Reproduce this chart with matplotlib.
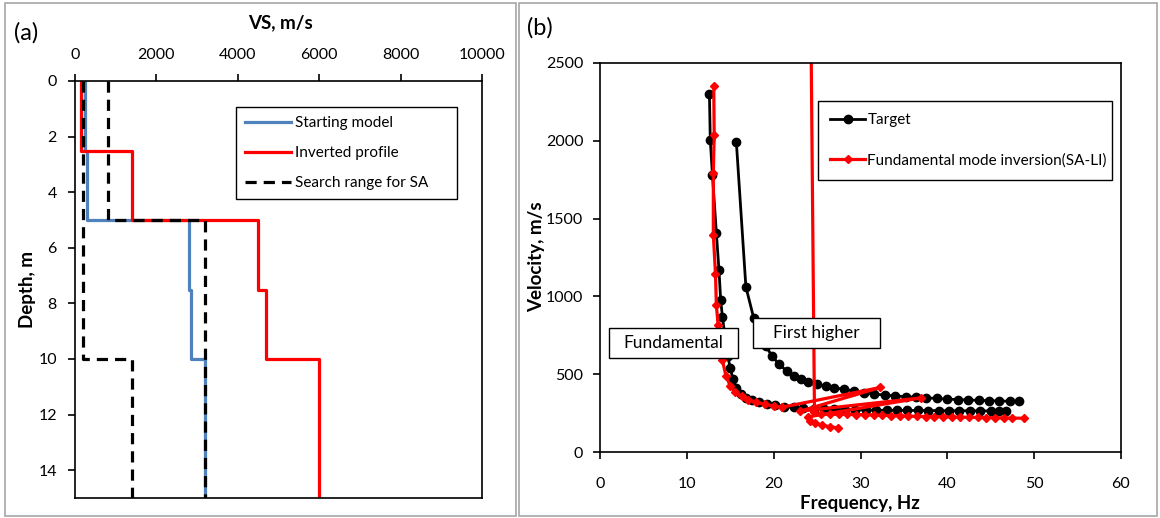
import matplotlib
matplotlib.use('Agg')
import matplotlib.pyplot as plt
from matplotlib.patches import Rectangle

plt.rcParams['font.family'] = ['Lato', 'DejaVu Sans']

# ---- (a) layered VS profiles (depth edges in m, VS in m/s) ----
depth_edges = [0, 2.5, 5, 7.5, 10, 15]
vs_start = [250, 300, 2800, 2850, 3200]
vs_inverted = [150, 1400, 4500, 4700, 6000]
sa_low_edges = [0, 10, 15]
sa_low = [200, 1400]
sa_high_edges = [0, 5, 15]
sa_high = [800, 3200]

# ---- (b) dispersion curves (frequency Hz, phase velocity m/s) ----
tgt_fund_f = [12.6, 12.7, 12.95, 13.4, 13.7, 13.9, 14.1, 14.4, 14.7, 15.0, 15.3, 15.7,
              16.2, 16.8, 17.5, 18.3, 19.2, 20.2, 21.2, 22.3, 23.4, 24.6, 25.8, 27.0,
              28.2, 29.4, 30.6, 31.8, 33.0, 34.2, 35.4, 36.6, 37.8, 39.0, 40.2, 41.4,
              42.6, 43.8, 45.0, 46.0, 46.8]
tgt_fund_v = [2300, 2005, 1780, 1409, 1170, 975, 868, 740, 620, 540, 470, 410,
              372, 350, 335, 322, 310, 300, 292, 286, 281, 278, 276, 274,
              272, 271, 270, 269, 268, 268, 267, 267, 266, 266, 265, 265,
              265, 264, 264, 264, 264]
tgt_high_f = [15.7, 16.8, 17.7, 18.4, 19.1, 19.8, 20.6, 21.5, 22.3, 23.1, 24.0, 25.0,
              26.0, 27.0, 28.1, 29.2, 30.4, 31.6, 32.8, 34.0, 35.2, 36.4, 37.6, 38.8,
              40.0, 41.2, 42.4, 43.6, 44.8, 46.0, 47.2, 48.2]
tgt_high_v = [1994, 1062, 861, 760, 680, 618, 565, 521, 490, 468, 450, 436,
              422, 412, 403, 393, 382, 372, 366, 360, 356, 352, 348, 344,
              340, 337, 334, 332, 330, 328, 326, 325]
inv_main_f = [13.1, 13.15, 13.05, 13.05, 13.3, 13.4, 13.6, 13.8, 14.1, 14.5, 15.0, 15.6,
              16.3, 17.1, 18.0, 19.0, 20.0, 21.0, 32.3, 23.0, 37.0, 23.9, 24.2, 24.8,
              25.6, 26.5, 27.4]
inv_main_v = [2352, 2037, 1790, 1395, 1144, 945, 816, 700, 590, 490, 425, 385,
              357, 336, 320, 306, 296, 288, 415, 262, 348, 225, 200, 185,
              172, 162, 155]
inv_jump_f = [24.0, 24.7, 25.5, 26.5, 27.5, 28.5, 29.5, 30.5, 31.5, 32.5, 33.5, 34.5,
              35.5, 36.5, 37.5, 38.5, 39.5, 40.5, 41.5, 42.5, 43.5, 44.5, 45.5, 46.5,
              47.5, 48.8]
inv_jump_v = [4500, 255, 243, 242, 242, 242, 241, 240, 238, 236, 234, 233,
              231, 229, 228, 227, 226, 225, 224, 223, 222, 221, 220, 219,
              218, 217]

W, H = 1160, 518
fig = plt.figure(figsize=(W / 100, H / 100), dpi=100)


def px_rect(x0, y0, x1, y1):
    # pixel box (top-left origin) -> figure fraction [l, b, w, h]
    return [x0 / W, 1 - y1 / H, (x1 - x0) / W, (y1 - y0) / H]


def steps(edges, vals):
    xs, ys = [], []
    for i, v in enumerate(vals):
        xs += [v, v]
        ys += [edges[i], edges[i + 1]]
    return xs, ys


# panel frames
for x0, x1 in [(5, 516), (519, 1157)]:
    fig.patches.append(Rectangle((x0 / W, 1 - 516 / H), (x1 - x0) / W, 513 / H,
                                 transform=fig.transFigure, fill=False,
                                 edgecolor='#A6A6A6', lw=1.2))

tick_fs = 11.5
lab_fs = 13.5

# ---------------- (a) ----------------
ax1 = fig.add_axes(px_rect(75, 81, 482, 498))
x, y = steps(depth_edges, vs_start)
ax1.plot(x, y, color='#4F81BD', lw=2.3, label='Starting model')
x, y = steps(depth_edges, vs_inverted)
ax1.plot(x, y, color='#FF0000', lw=2.3, label='Inverted profile')
x, y = steps(sa_low_edges, sa_low)
ax1.plot(x, y, color='black', lw=2.3, dashes=(3.5, 2.2), label='Search range for SA')
x, y = steps(sa_high_edges, sa_high)
ax1.plot(x, y, color='black', lw=2.3, dashes=(3.5, 2.2))
ax1.set_xlim(0, 10000)
ax1.set_ylim(15, 0)
ax1.set_xticks(range(0, 10001, 2000))
ax1.set_yticks(range(0, 15, 2))
ax1.xaxis.tick_top()
ax1.tick_params(axis='x', direction='out', length=5, width=1.2, pad=9, labelsize=tick_fs)
ax1.tick_params(axis='y', direction='out', length=5, width=1.2, pad=8, labelsize=tick_fs)
for s in ax1.spines.values():
    s.set_linewidth(1.2)
ax1.legend(loc='upper left', bbox_to_anchor=(0.396, 0.938, 0.543, 0.0), mode='expand',
           borderaxespad=0, fancybox=False, edgecolor='black', framealpha=1,
           fontsize=11, handlelength=3.0, handletextpad=0.25, labelspacing=1.05,
           borderpad=0.6).get_frame().set_linewidth(1.0)

fig.text(280 / W, 1 - 23 / H, 'VS, m/s', ha='center', va='center', fontsize=lab_fs, fontweight='bold')
fig.text(27 / W, 1 - 289 / H, 'Depth, m', ha='center', va='center', rotation=90,
         fontsize=lab_fs, fontweight='bold')
fig.text(14 / W, 1 - 33 / H, '(a)', ha='left', va='center', fontsize=17)

# ---------------- (b) ----------------
ax2 = fig.add_axes(px_rect(600, 63, 1121, 452))
ax2.plot(tgt_fund_f, tgt_fund_v, color='black', lw=2.0, marker='o', ms=6, label='Target')
ax2.plot(tgt_high_f, tgt_high_v, color='black', lw=2.0, marker='o', ms=6)
ax2.plot(inv_main_f, inv_main_v, color='#FF0000', lw=2.3, marker='D', ms=4,
         label='Fundamental mode inversion(SA-LI)')
ax2.plot(inv_jump_f, inv_jump_v, color='#FF0000', lw=2.3, marker='D', ms=4)
ax2.set_xlim(0, 60)
ax2.set_ylim(0, 2500)
ax2.set_xticks(range(0, 61, 10))
ax2.set_yticks(range(0, 2501, 500))
ax2.tick_params(axis='x', direction='out', length=5, width=1.2, pad=13, labelsize=tick_fs)
ax2.tick_params(axis='y', direction='out', length=5, width=1.2, pad=7, labelsize=tick_fs)
for s in ax2.spines.values():
    s.set_linewidth(1.2)
ax2.legend(loc='upper left', bbox_to_anchor=(0.418, 0.902, 0.565, 0.0), mode='expand',
           borderaxespad=0, fancybox=False, edgecolor='black', framealpha=1,
           fontsize=11, handlelength=2.3, handletextpad=0.15, labelspacing=1.7,
           borderpad=0.8).get_frame().set_linewidth(1.0)

fig.text(860 / W, 1 - 504 / H, 'Frequency, Hz', ha='center', va='center', fontsize=lab_fs, fontweight='bold')
fig.text(537 / W, 1 - 257 / H, 'Velocity, m/s', ha='center', va='center', rotation=90,
         fontsize=lab_fs, fontweight='bold')
fig.text(527 / W, 1 - 28 / H, '(b)', ha='left', va='center', fontsize=17)

# mode annotation boxes
for (x0, y0, x1, y1), txt in [((609, 328, 738, 358), 'Fundamental'),
                              ((753, 318, 880, 348), 'First higher')]:
    fig.patches.append(Rectangle((x0 / W, 1 - y1 / H), (x1 - x0) / W, (y1 - y0) / H,
                                 transform=fig.transFigure, facecolor='white',
                                 edgecolor='black', lw=1.0, zorder=5))
    fig.text((x0 + x1) / 2 / W, 1 - (y0 + y1) / 2 / H, txt, ha='center', va='center',
             fontsize=12.5, zorder=6)

fig.savefig('out.png', dpi=100)
